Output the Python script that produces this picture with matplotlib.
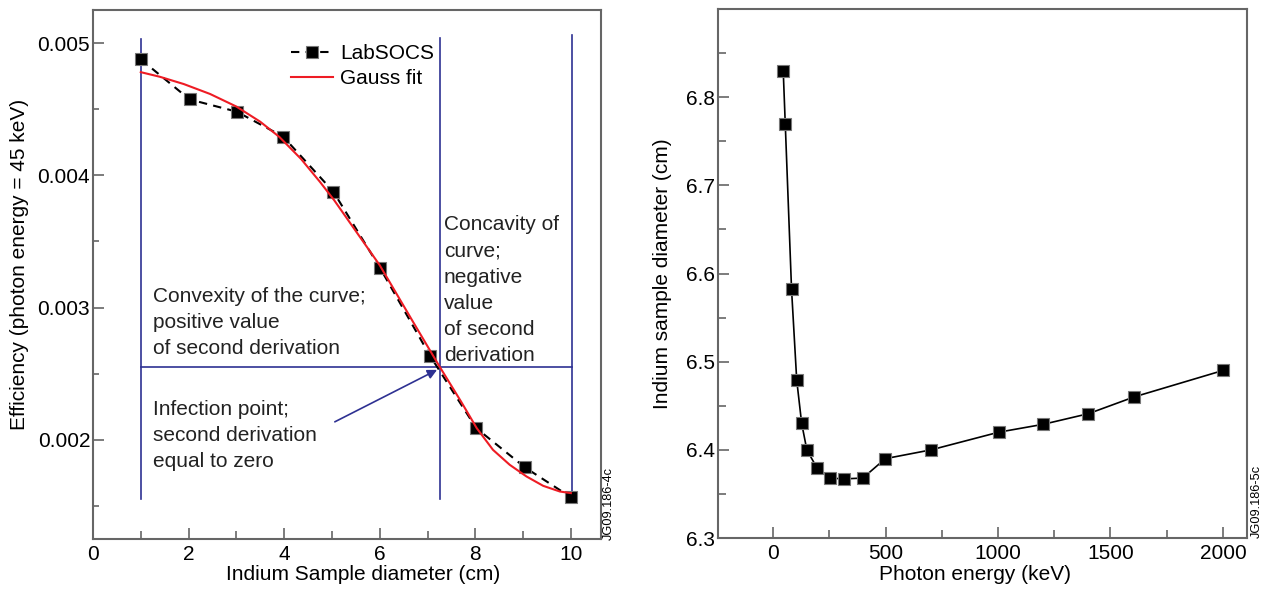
import matplotlib
matplotlib.use("Agg")
import matplotlib.pyplot as plt

plt.rcParams['font.family'] = ['Liberation Sans', 'DejaVu Sans']
plt.rcParams['font.size'] = 15

# Left panel: LabSOCS efficiency vs indium sample diameter
diameter = [1.0, 2.02, 3.01, 3.98, 5.03, 6.01, 7.05, 8.02, 9.04, 10.0]
efficiency = [0.004877, 0.004574, 0.004481, 0.004292, 0.003876,
              0.003297, 0.002637, 0.002088, 0.001791, 0.001566]

# Gauss fit curve
fit_diameter = [1.0, 1.4, 1.9, 2.45, 3.0, 3.5, 3.9, 4.35, 4.75, 5.05,
                6.0, 6.7, 7.25, 7.7, 8.03, 8.37, 8.72, 9.07, 9.42, 9.77, 10.0]
fit_efficiency = [0.004780, 0.004745, 0.004690, 0.004615, 0.004520, 0.004405,
                  0.004290, 0.004125, 0.003950, 0.003810, 0.003320, 0.002890,
                  0.002555, 0.002290, 0.002088, 0.001924, 0.001811, 0.001723,
                  0.001652, 0.001609, 0.001597]

# guide lines (blue)
region_x = [1.0, 7.26, 10.02]
region_top = [0.00503, 0.00504, 0.00506]
region_bottom = 0.001554
inflection_y = 0.002552

# Right panel: optimum diameter vs photon energy
energy = [45, 54, 82, 105, 127, 150, 196, 254, 314, 399, 499, 703,
          1003, 1202, 1402, 1605, 2000]
sample_diameter = [6.830, 6.770, 6.582, 6.479, 6.430, 6.400, 6.379, 6.368, 6.367,
                   6.368, 6.390, 6.400, 6.420, 6.429, 6.441, 6.460, 6.490]

left_xticks = [0, 2, 4, 6, 8, 10]
left_yticks = [0.002, 0.003, 0.004, 0.005]
left_yticklabels = ['0.002', '0.003', '0.004', '0.005']
right_xticks = [0, 500, 1000, 1500, 2000]
right_yticks = [6.3, 6.4, 6.5, 6.6, 6.7, 6.8]
right_yticklabels = ['6.3', '6.4', '6.5', '6.6', '6.7', '6.8']

blue = '#2e3192'
red = '#ee1c24'
spine_col = '#666666'

fig = plt.figure(figsize=(12.7, 5.9), dpi=100)
ax1 = fig.add_axes([93/1270, 1-539/590, 508/1270, 529/590])
ax2 = fig.add_axes([718/1270, 1-538/590, 529/1270, 529/590])

for ax in (ax1, ax2):
    for s in ax.spines.values():
        s.set_color(spine_col)
        s.set_linewidth(1.5)
    ax.tick_params(which='both', direction='in', color=spine_col, width=1.2,
                   top=False, right=False, labelsize=15)
    ax.tick_params(which='major', length=8)
    ax.tick_params(which='minor', length=5.5)
    ax.tick_params(axis='x', pad=4)
    ax.tick_params(axis='y', pad=2)

# ---- left panel ----
for x, top in zip(region_x, region_top):
    ax1.plot([x, x], [region_bottom, top], color=blue, lw=1.2, zorder=1)
ax1.plot([region_x[0], region_x[-1]], [inflection_y, inflection_y], color=blue, lw=1.2, zorder=1)

ax1.plot(diameter, efficiency, color='black', lw=1.5, dashes=(4, 3),
         marker='s', ms=8.5, mfc='black', mec='#777777', mew=0.8,
         label='LabSOCS', zorder=3)
ax1.plot(fit_diameter, fit_efficiency, color=red, lw=1.5, label='Gauss fit', zorder=4)

ax1.annotate('', xy=(7.20, 0.002529), xytext=(5.06, 0.002136),
             arrowprops=dict(arrowstyle='-|>', color=blue, lw=1.2,
                             mutation_scale=14, shrinkA=0, shrinkB=0))

ax1.text(1.255, 0.003159, 'Convexity of the curve;\npositive value\nof second derivation',
         va='top', ha='left', fontsize=15, linespacing=1.48, color='#222222')
ax1.text(1.255, 0.002302, 'Infection point;\nsecond derivation\nequal to zero',
         va='top', ha='left', fontsize=15, linespacing=1.48, color='#222222')
ax1.text(7.34, 0.003698, 'Concavity of\ncurve;\nnegative\nvalue\nof second\nderivation',
         va='top', ha='left', fontsize=15, linespacing=1.48, color='#222222')

ax1.set_xlim(0, 10.63)
ax1.set_ylim(0.00125, 0.00525)
ax1.set_xticks(left_xticks)
ax1.set_xticks([1, 3, 5, 7, 9], minor=True)
ax1.set_yticks(left_yticks)
ax1.set_yticklabels(left_yticklabels)
ax1.set_yticks([0.0015, 0.0025, 0.0035, 0.0045], minor=True)
ax1.tick_params(axis='y', which='minor', length=4)

ax1.legend(loc='upper left', bbox_to_anchor=(0.39, 0.936), frameon=False,
           fontsize=15, handlelength=2.0, handletextpad=0.35, labelspacing=0.3,
           borderpad=0, borderaxespad=0)

# ---- right panel ----
ax2.plot(energy, sample_diameter, color='black', lw=1.2,
         marker='s', ms=8.5, mfc='black', mec='#777777', mew=0.8)
ax2.set_xlim(-245, 2107)
ax2.set_ylim(6.3, 6.9)
ax2.set_xticks(right_xticks)
ax2.set_xticks([250, 750, 1250, 1750], minor=True)
ax2.set_yticks(right_yticks)
ax2.set_yticklabels(right_yticklabels)
ax2.set_yticks([6.35, 6.45, 6.55, 6.65, 6.75, 6.85], minor=True)

# axis labels
fig.text(20/1270, 1-264/590, 'Efficiency (photon energy = 45 keV)', rotation=90,
         ha='center', va='center', fontsize=15)
fig.text(363/1270, 1-575/590, 'Indium Sample diameter (cm)', ha='center', va='center', fontsize=15)
fig.text(663/1270, 1-274/590, 'Indium sample diameter (cm)', rotation=90,
         ha='center', va='center', fontsize=15)
fig.text(975/1270, 1-575/590, 'Photon energy (keV)', ha='center', va='center', fontsize=15)

# figure codes
fig.text(609/1270, 1-540/590, 'JG09.186-4c', rotation=90, ha='center', va='bottom', fontsize=9.2)
fig.text(1257/1270, 1-538/590, 'JG09.186-5c', rotation=90, ha='center', va='bottom', fontsize=9.2)

fig.savefig('out.png', dpi=100)
